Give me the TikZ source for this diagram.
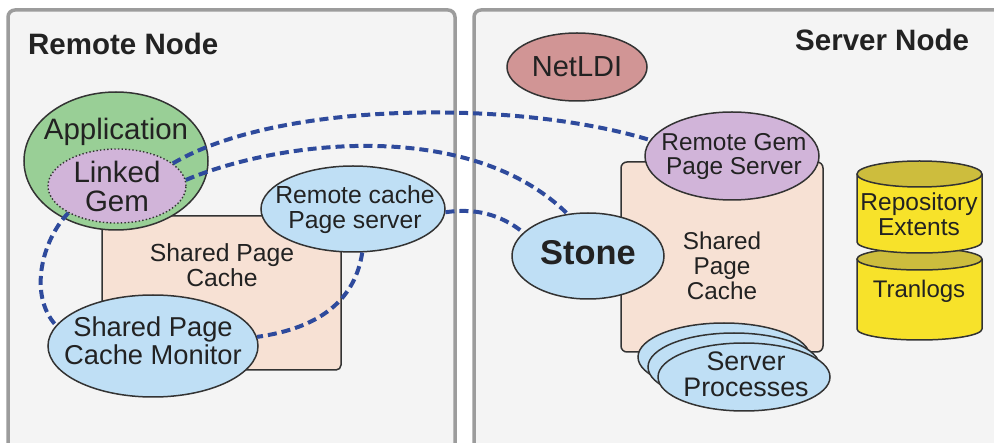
\documentclass[tikz,border=0pt]{standalone}
\usepackage{fontspec}
\setmainfont{Liberation Sans}
\usetikzlibrary{shapes.geometric}
\definecolor{framegray}{HTML}{9C9C9C}
\definecolor{boxbg}{HTML}{F4F4F4}
\definecolor{appgreen}{HTML}{99CF96}
\definecolor{gempurple}{HTML}{D1B4D9}
\definecolor{procblue}{HTML}{BFDFF5}
\definecolor{cachepeach}{HTML}{F7E1D4}
\definecolor{netrose}{HTML}{D19595}
\definecolor{dashblue}{HTML}{2E4A9C}
\definecolor{outl}{HTML}{333333}
\definecolor{textc}{HTML}{222222}
\definecolor{ybright}{HTML}{F7E22A}
\definecolor{ydark}{HTML}{C4B43A}
\definecolor{ytop}{HTML}{CDBD3D}
\pgfdeclarehorizontalshading{cylshade}{100bp}{color(0bp)=(ydark); color(12bp)=(ybright); color(78bp)=(ybright); color(100bp)=(ydark)}
\newcommand\myfs[2]{\fontsize{#1}{#2}\selectfont}
\begin{document}
\begin{tikzpicture}[x=1pt,y=-1pt,
  frame/.style={draw=framegray, line width=3.5pt, fill=boxbg, rounded corners=7pt},
  oval/.style={ellipse, draw=outl, line width=1.5pt, inner sep=0pt},
  cachebox/.style={draw=outl, line width=1.5pt, fill=cachepeach, rounded corners=5pt, inner sep=0pt},
  link/.style={draw=dashblue, line width=4pt, dash pattern=on 9pt off 5pt},
  txt/.style={inner sep=0pt, align=center, text=textc},
  title/.style={txt, font=\myfs{29.5}{32}\bfseries},
  cylline/.style={draw=outl, line width=1.5pt}
]
\useasboundingbox (0,0) rectangle (994,443);
\clip (0,0) rectangle (994,443);
\fill[white] (0,0) rectangle (994,443);

% outer frames
\path[frame] (8,10) rectangle (455,470);
\path[frame] (474,10) rectangle (1020,470);
\node[title, anchor=base west] (remotetitle) at (28,55) {Remote Node};
\node[title, anchor=base west] (servertitle) at (795,51) {Server Node};

% ---- Remote node ----
\node[cachebox, minimum width=239pt, minimum height=154pt] (spcl) at (221.5,293) {};
\node[txt, font=\myfs{24.7}{25}] (spcltxt) at (222,265.5) {Shared Page\\Cache};
\node[oval, fill=appgreen, minimum width=184pt, minimum height=138pt] (app) at (116,161) {};
\node[txt, font=\myfs{29.5}{30}] (apptxt) at (116,132) {Application};
\node[oval, fill=gempurple, line width=1.4pt, dash pattern=on 1.4pt off 2.2pt, minimum width=138pt, minimum height=74pt] (lg) at (117,186) {};
\node[txt, font=\myfs{29.5}{29}] (lgtxt) at (117,186) {Linked\\Gem};
\node[oval, fill=procblue, minimum width=184pt, minimum height=86pt] (rc) at (353,209) {};
\node[txt, font=\myfs{24.7}{25}] (rctxt) at (355,210) {Remote cache\\Page server};
\node[oval, fill=procblue, minimum width=210pt, minimum height=102pt] (mon) at (153,346) {};
\node[txt, font=\myfs{27.3}{28}] (montxt) at (153,341) {Shared Page\\Cache Monitor};

% ---- Server node ----
\node[oval, fill=netrose, minimum width=140pt, minimum height=68pt] (net) at (577,67) {};
\node[txt, font=\myfs{29}{30}] (nettxt) at (577,67) {NetLDI};
\node[cachebox, rounded corners=6pt, minimum width=202pt, minimum height=190pt] (spcs) at (722,257) {};
\node[txt, font=\myfs{24.3}{24.7}] (spcstxt) at (722,266) {Shared\\Page\\Cache};
\node[oval, fill=gempurple, minimum width=174pt, minimum height=88pt] (rg) at (732,156) {};
\node[txt, font=\myfs{24.4}{24}] (rgtxt) at (734,157) {Remote Gem\\Page Server};
\node[oval, fill=procblue, minimum width=152pt, minimum height=86pt] (st) at (588,256) {};
\node[txt, font=\myfs{34.4}{36}\bfseries] (sttxt) at (588,253) {Stone};
\node[oval, fill=procblue, minimum width=172pt, minimum height=68pt] (sp3) at (724,357) {};
\node[oval, fill=procblue, minimum width=172pt, minimum height=68pt] (sp2) at (734,367) {};
\node[oval, fill=procblue, minimum width=172pt, minimum height=68pt] (sp1) at (744,377) {};
\node[txt, font=\myfs{26.8}{26}] (sptxt) at (746,374) {Server\\Processes};

% cylinders: Tranlogs (lower) first, then Repository Extents
\path[shading=cylshade]
  (857,259) -- (857,329) arc[start angle=180, end angle=0, x radius=62.5, y radius=11] -- (982,259) -- cycle;
\draw[cylline] (857,259) -- (857,329) arc[start angle=180, end angle=0, x radius=62.5, y radius=11] -- (982,259);
\draw[cylline, fill=ytop] (919.5,259) ellipse [x radius=62.5, y radius=11];
\node[txt, font=\myfs{24}{24}] (tltxt) at (919,291) {Tranlogs};

\path[shading=cylshade]
  (857,174) -- (857,242) arc[start angle=180, end angle=0, x radius=62.5, y radius=11] -- (982,174) -- cycle;
\draw[cylline] (857,174) -- (857,242) arc[start angle=180, end angle=0, x radius=62.5, y radius=11] -- (982,174);
\draw[cylline, fill=ytop] (919.5,174) ellipse [x radius=62.5, y radius=13];
\node[txt, font=\myfs{24.5}{24.5}] (retxt) at (919,214) {Repository\\Extents};

% ---- dashed connectors ----
\draw[link] (lg.22) .. controls (280,100) and (520,100) .. (rg.169);
\draw[link] (lg.5) .. controls (280,140) and (470,118) .. (st.116);
\draw[link] (rc.358) .. controls (475,208) and (500,214) .. (st.160);
\draw[link] (lg.209) .. controls (42,240) and (28,295) .. (mon.168);
\draw[link] (rc.282) .. controls (355,300) and (320,328) .. (mon.5);
\end{tikzpicture}
\end{document}
